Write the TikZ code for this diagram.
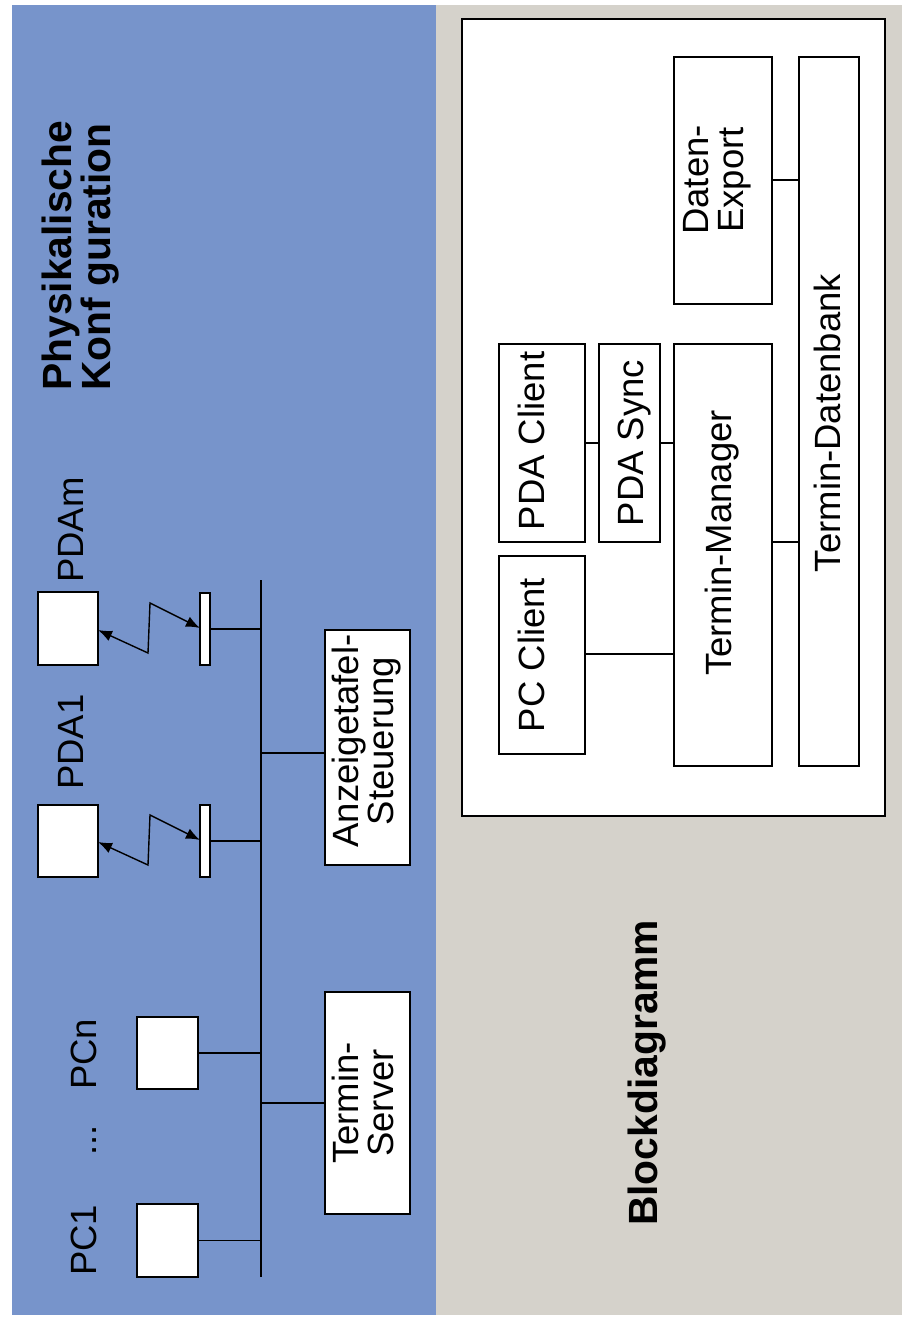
\documentclass[tikz,border=0pt]{standalone}
\usepackage{fontspec}
\setmainfont{Liberation Sans}
\usetikzlibrary{arrows.meta,fit}
\definecolor{panelblue}{RGB}{119,148,203}
\definecolor{panelgrey}{RGB}{213,210,203}
% two centred lines whose first baseline is the node baseline
\newcommand{\twolines}[2]{\begin{tabular}[t]{@{}c@{}}#1\\[-1pt]#2\end{tabular}}

\begin{document}
\begin{tikzpicture}[x=1pt,y=-1pt,
  blk/.style={draw=black, fill=white, line width=1.4pt, inner sep=0pt, outer sep=0pt},
  wire/.style={line width=1.4pt},
  radio/.style={line width=1.4pt, {Latex[length=14pt,width=11pt]}-{Latex[length=14pt,width=11pt]}},
  lbl/.style={rotate=90, inner sep=0pt, font=\fontsize{36.5}{36}\selectfont},
  headline/.style={rotate=90, inner sep=0pt, font=\bfseries\fontsize{40.8}{40}\selectfont},
]
\useasboundingbox (0,0) rectangle (902,1322);
\fill[white] (0,0) rectangle (902,1322);
\fill[panelblue] (12,5) rectangle (436,1315);
\fill[panelgrey] (436,5) rectangle (902,1315);

% ---------- physical configuration ----------
\node[headline, anchor=base west] (phys) at (71,391)
  {\begin{tabular}[t]{@{}l@{}}Physikalische\\[-1.7pt]Konf guration\end{tabular}};

\node[blk, fit={(38,592) (98,665)}] (pdam) {};
\node[blk, fit={(200,593) (210,665)}] (antm) {};
\node[blk, fit={(38,805) (98,877)}] (pda1) {};
\node[blk, fit={(200,805) (210,877)}] (ant1) {};
\node[blk, fit={(137,1017) (198,1089)}] (pcn) {};
\node[blk, fit={(137,1204) (198,1277)}] (pc1) {};
\node[blk, fit={(325,630) (410,865)}] (anz) {};
\node[blk, fit={(325,992) (410,1214)}] (srv) {};

\node[lbl, anchor=base west] (lpdam) at (83,583) {PDAm};
\node[lbl, anchor=base west] (lpda1) at (83,790) {PDA1};
\node[lbl, anchor=base west] (lpcn) at (96,1090) {PCn};
\node[lbl, anchor=base west] (ldots) at (96,1156) {...};
\node[lbl, anchor=base west] (lpc1) at (96,1276) {PC1};
\node[lbl, anchor=base] (lanz) at (358,741) {\twolines{Anzeigetafel-}{Steuerung}};
\node[lbl, anchor=base] (lsrv) at (358,1103) {\twolines{Termin-}{Server}};

% bus and its stubs
\coordinate (busT) at (261,580);
\coordinate (busB) at (261,1277);
\draw[line width=1.8pt] (busT) -- (busB);
\draw[wire] (antm.east) -- (antm.east -| busT);
\draw[wire] (ant1.east) -- (ant1.east -| busT);
\draw[wire] (pcn.east) -- (pcn.east -| busT);
\draw[wire] (pc1.east) -- (pc1.east -| busT);
\draw[wire] (busT |- 0,753) -- (anz.west |- 0,753);
\draw[wire] (busT |- srv.west) -- (srv.west);

% radio links
\draw[radio] (pdam.east |- 0,630) -- (148,653) -- (150,603) -- (antm.west |- 0,628);
\draw[radio] (pda1.east |- 0,842) -- (148,865) -- (150,815) -- (ant1.west |- 0,840);

% ---------- block diagram ----------
\node[headline, anchor=base west] (blockt) at (657,1226) {Blockdiagramm};

\node[blk, fit={(462,19) (885,816)}] (frame) {};
\node[blk, fit={(674,57) (772,304)}] (exp) {};
\node[blk, fit={(799,57) (859,766)}] (db) {};
\node[blk, fit={(499,344) (585,542)}] (pdac) {};
\node[blk, fit={(599,344) (660,542)}] (sync) {};
\node[blk, fit={(674,344) (772,766)}] (tm) {};
\node[blk, fit={(499,556) (585,754)}] (pcc) {};

\node[lbl, anchor=base] (lexp) at (708,180) {\twolines{Daten-}{Export}};
\node[lbl, anchor=base] (lpdac) at (544,441) {PDA Client};
\node[lbl, anchor=base] (lsync) at (643,443) {PDA Sync};
\node[lbl, anchor=base] (ltm) at (731,543) {Termin-Manager};
\node[lbl, anchor=base] (lpcc) at (544,655) {PC Client};
\node[lbl, anchor=base] (ldb) at (840,423) {Termin-Datenbank};

\draw[wire] (exp.east |- 0,180) -- (db.west |- 0,180);
\draw[wire] (pdac.east |- 0,443) -- (sync.west |- 0,443);
\draw[wire] (sync.east |- 0,443) -- (tm.west |- 0,443);
\draw[wire] (pcc.east |- 0,654) -- (tm.west |- 0,654);
\draw[wire] (tm.east |- 0,542) -- (db.west |- 0,542);
\end{tikzpicture}
\end{document}
